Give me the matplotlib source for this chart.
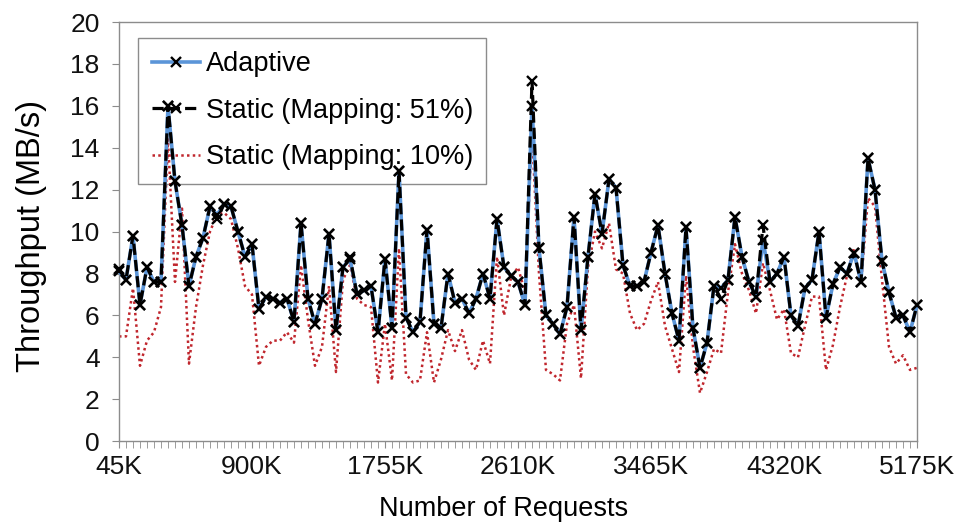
import numpy as np
import matplotlib
matplotlib.use("Agg")
import matplotlib.pyplot as plt

plt.rcParams['font.family'] = ['Liberation Sans', 'DejaVu Sans']

# number of requests (K), one point every 45K
requests = np.arange(45, 5176, 45)
tick_vals = [45, 900, 1755, 2610, 3465, 4320, 5175]
tick_labels = ['45K', '900K', '1755K', '2610K', '3465K', '4320K', '5175K']

# throughput (MB/s)
adaptive = [8.1, 7.7, 9.8, 6.5, 8.3, 7.6, 7.6, 16.0, 12.4, 10.3,
            7.4, 8.8, 9.7, 11.2, 10.8, 11.3, 11.2, 10.0, 8.8, 9.4,
            6.3, 6.9, 6.8, 6.6, 6.8, 5.7, 10.4, 6.8, 5.6, 6.8,
            9.9, 5.3, 8.3, 8.7, 7.0, 7.2, 7.4, 5.2, 8.7, 5.4,
            12.9, 5.9, 5.2, 5.7, 10.1, 5.6, 5.4, 8.0, 6.6, 6.8,
            6.1, 6.8, 8.0, 6.8, 10.6, 8.3, 7.9, 7.6, 6.5, 16.0,
            9.2, 6.0, 5.6, 5.1, 6.4, 10.7, 5.3, 8.8, 11.8, 9.9,
            12.5, 12.1, 8.4, 7.4, 7.4, 7.6, 9.0, 10.3, 8.0, 6.1,
            4.8, 10.2, 5.4, 3.5, 4.7, 7.4, 7.3, 7.7, 10.7, 8.8,
            7.6, 6.9, 9.6, 7.6, 8.0, 8.8, 6.0, 5.5, 7.3, 7.7,
            10.0, 5.9, 7.5, 8.3, 8.0, 9.0, 7.6, 13.5, 12.0, 8.6,
            7.1, 5.9, 6.0, 5.2, 6.5]

static51 = [8.2, 7.7, 9.8, 6.5, 8.3, 7.6, 7.6, 16.0, 12.4, 10.3,
            7.4, 8.8, 9.7, 11.2, 10.6, 11.3, 11.2, 10.0, 8.8, 9.4,
            6.3, 6.9, 6.8, 6.6, 6.8, 5.7, 10.4, 6.8, 5.6, 6.8,
            9.9, 5.3, 8.3, 8.8, 7.0, 7.2, 7.4, 5.2, 8.7, 5.4,
            12.9, 5.9, 5.2, 5.7, 10.1, 5.6, 5.4, 8.0, 6.6, 6.8,
            6.1, 6.8, 8.0, 6.8, 10.6, 8.3, 7.9, 7.6, 6.5, 17.2,
            9.2, 6.0, 5.6, 5.1, 6.4, 10.7, 5.3, 8.8, 11.8, 9.9,
            12.5, 12.1, 8.4, 7.4, 7.4, 7.6, 9.0, 10.3, 8.0, 6.1,
            4.8, 10.2, 5.4, 3.5, 4.7, 7.4, 6.8, 7.7, 10.7, 8.8,
            7.6, 6.9, 10.3, 7.6, 8.0, 8.8, 6.0, 5.5, 7.3, 7.7,
            10.0, 5.9, 7.5, 8.3, 8.0, 9.0, 7.6, 13.5, 12.0, 8.6,
            7.1, 5.9, 6.0, 5.2, 6.5]

static10 = [5.0, 5.0, 7.3, 3.6, 4.8, 5.2, 6.4, 14.4, 7.6, 11.1,
            3.7, 6.4, 8.4, 10.0, 10.8, 10.9, 10.6, 9.2, 7.4, 7.0,
            3.6, 4.5, 4.8, 4.8, 5.2, 4.7, 8.4, 5.8, 3.6, 4.5,
            7.4, 3.3, 7.7, 8.4, 6.8, 6.5, 6.4, 2.8, 5.6, 2.9,
            9.2, 3.2, 2.8, 2.9, 5.2, 2.8, 3.9, 5.3, 4.3, 5.3,
            3.9, 3.4, 4.8, 3.7, 8.8, 6.0, 7.8, 8.3, 7.1, 14.7,
            8.0, 3.4, 3.2, 2.9, 5.6, 6.5, 3.0, 8.3, 10.0, 9.2,
            10.4, 8.2, 8.0, 6.1, 5.3, 5.6, 6.7, 7.6, 5.5, 4.4,
            3.3, 7.9, 4.5, 2.3, 3.3, 4.4, 4.2, 7.1, 9.4, 8.0,
            7.2, 6.1, 8.5, 7.2, 5.8, 6.3, 4.2, 4.0, 5.5, 6.9,
            6.9, 3.4, 4.6, 6.4, 7.9, 9.2, 7.5, 11.6, 11.2, 7.7,
            4.5, 3.7, 4.1, 3.4, 3.5]

fig = plt.figure(figsize=(9.55, 5.24), dpi=100)
ax = fig.add_axes([0.1246, 0.158, 0.8356, 0.8])

grey = '#8c8c8c'

ax.plot(requests, adaptive, color='#5b95d8', lw=2.6, marker='x', ms=7.5,
        mec='black', mew=1.7, label='Adaptive', clip_on=False, zorder=3)
ax.plot(requests, static51, color='black', lw=2.3, ls=(0, (3.5, 1.6)), marker='x',
        ms=7.5, mec='black', mew=1.7, label='Static (Mapping: 51%)',
        clip_on=False, zorder=4)
ax.plot(requests, static10, color='#c0262d', lw=1.8, ls=(0, (1, 1.3)),
        label='Static (Mapping: 10%)', clip_on=False, zorder=2)

ax.set_xlim(45, 5175)
ax.set_ylim(0, 20)
ax.set_yticks(range(0, 21, 2))
ax.set_xticks(tick_vals)
ax.set_xticklabels(tick_labels)
ax.set_xticks(requests, minor=True)

for s in ax.spines.values():
    s.set_color(grey)
    s.set_linewidth(1.0)

ax.tick_params(axis='both', which='both', direction='out', color=grey,
               labelsize=19, labelcolor='#111111')
ax.tick_params(axis='x', which='both', length=5, pad=5)
ax.tick_params(axis='y', which='major', length=5, pad=9)

ax.set_xlabel('Number of Requests', fontsize=19.5, labelpad=12)
ax.xaxis.label.set_x(0.482)
ax.set_ylabel('Throughput (MB/s)', fontsize=23.5, labelpad=17)
ax.yaxis.label.set_y(0.49)

leg = ax.legend(loc='upper left', bbox_to_anchor=(0.0238, 0.962),
                borderaxespad=0, fontsize=19.5, labelspacing=0.75,
                numpoints=1, handlelength=1.8, handletextpad=0.2,
                borderpad=0.5, fancybox=False, framealpha=1,
                edgecolor=grey)
leg.get_frame().set_linewidth(1.0)
leg.set_zorder(1)

fig.savefig('out.png', dpi=100)
